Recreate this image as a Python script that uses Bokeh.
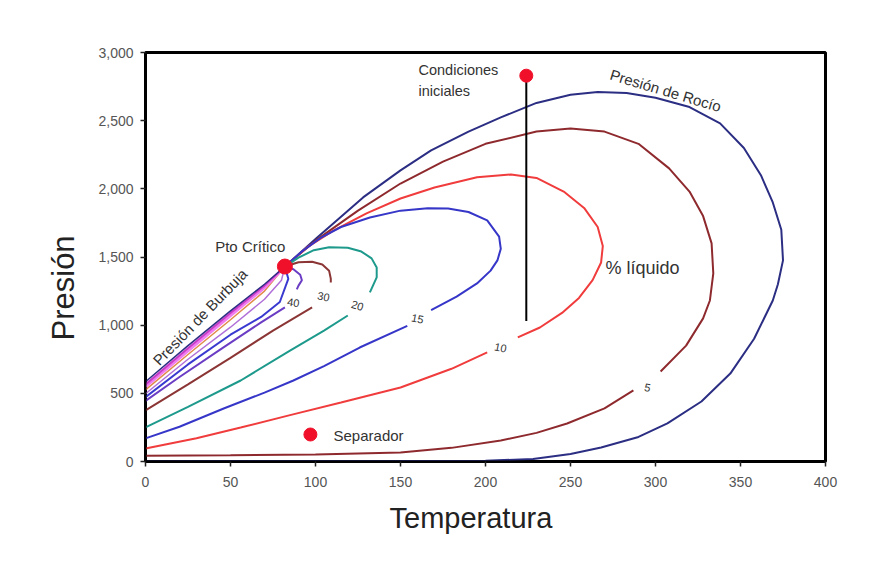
import numpy as np
from bokeh.plotting import figure
from bokeh.models import NumeralTickFormatter, FixedTicker, Range1d, Title
from bokeh.core.properties import value
from bokeh.embed import file_html
from bokeh.resources import INLINE

nan = float("nan")

# ---- tick values ----
x_ticks = [0, 50, 100, 150, 200, 250, 300, 350, 400]
y_ticks = [0, 500, 1000, 1500, 2000, 2500, 3000]

# ---- key points ----
crit_T, crit_P = [82], [1430]
sep_T, sep_P = [97], [198]
init_T, init_P = [224], [2830]
path_T = [224, 224]
path_P = [2830, 1030]

# ---- quality lines (% liquid), temperature / pressure ----
q0_T = [82, 101, 128, 150, 168, 190, 209, 230, 250, 266, 283, 300, 320, 338, 352, 362, 369, 374, 375, 372, 369, 358, 344, 327, 307, 290, 268, 250, 228, 200, 150, 100, 0]
q0_P = [1430, 1643, 1937, 2135, 2282, 2420, 2524, 2630, 2690, 2710, 2703, 2668, 2600, 2480, 2300, 2100, 1900, 1700, 1475, 1300, 1181, 900, 645, 440, 279, 180, 103, 55, 18, 6, 3, 2, 0]

q5_T = [0, 50, 100, 150, 180, 209, 230, 248, 270, 287, nan, 303, 318, 328, 332, 334, 333, 328, 320, 308, 290, 270, 250, 230, 200, 175, 150, 125, 100, 82]
q5_P = [42, 45, 52, 66, 100, 154, 210, 279, 390, 521, nan, 660, 850, 1050, 1181, 1379, 1600, 1800, 1980, 2150, 2330, 2420, 2443, 2420, 2330, 2200, 2039, 1840, 1620, 1430]

q10_T = [0, 30, 56, 85, 115, 150, 180, 201, nan, 219, 232, 245, 255, 263, 268, 269, 266, 258, 246, 230, 215, 195, 170, 150, 130, 110, 95, 82]
q10_P = [95, 170, 249, 340, 433, 543, 680, 800, nan, 910, 983, 1090, 1200, 1330, 1460, 1580, 1720, 1860, 1980, 2080, 2105, 2085, 2010, 1929, 1820, 1690, 1570, 1430]

q15_T = [0, 20, 46, 70, 87, 105, 126, 154, nan, 168, 183, 195, 203, 207, 209, 208, 201, 190, 178, 166, 150, 132, 115, 103, 92, 82]
q15_P = [170, 255, 389, 505, 594, 700, 836, 995, nan, 1110, 1210, 1306, 1400, 1475, 1560, 1650, 1768, 1830, 1856, 1858, 1840, 1790, 1720, 1640, 1540, 1430]

q20_T = [0, 25, 56, 85, 105, 119, nan, 132, 136, 136, 133, 127, 119, 108, 99, 90, 82]
q20_P = [250, 400, 594, 814, 960, 1071, nan, 1240, 1350, 1423, 1490, 1540, 1568, 1572, 1550, 1495, 1430]

q30_T = [0, 25, 50, 75, 98, nan, 109, 109, 108, 104, 98, 90, 82]
q30_P = [375, 565, 760, 960, 1130, nan, 1313, 1340, 1400, 1445, 1465, 1462, 1430]

q40_T = [0, 20, 45, 68, 82, nan, 89, 90, 92, 91, 87, 82]
q40_P = [445, 620, 830, 1020, 1130, nan, 1262, 1290, 1330, 1370, 1410, 1430]

q50_T = [0, 25, 50, 68, 79, 84, 82]
q50_P = [472, 712, 930, 1060, 1170, 1340, 1430]

q60_T = [0, 25, 50, 70, 80, 82]
q60_P = [497, 750, 985, 1190, 1330, 1430]

q70_T = [0, 25, 50, 70, 82]
q70_P = [525, 785, 1040, 1250, 1430]

q80_T = [0, 25, 50, 70, 82]
q80_P = [550, 812, 1070, 1275, 1430]

q90_T = [0, 25, 50, 70, 82]
q90_P = [565, 830, 1090, 1290, 1430]

q100_T = [0, 25, 50, 70, 82]
q100_P = [585, 850, 1105, 1300, 1430]

FONT = "Liberation Sans"

p = figure(width=876, height=568,
           x_range=Range1d(0, 400), y_range=Range1d(0, 3000),
           output_backend="svg", toolbar_location=None,
           min_border_left=145, min_border_right=51,
           min_border_top=52, min_border_bottom=107)
p.background_fill_color = "white"
p.border_fill_color = "white"
p.xgrid.visible = False
p.ygrid.visible = False
p.outline_line_color = "black"
p.outline_line_width = 3
p.outline_line_alpha = 1

p.xaxis.ticker = FixedTicker(ticks=x_ticks)
p.yaxis.ticker = FixedTicker(ticks=y_ticks)
p.yaxis.formatter = NumeralTickFormatter(format="0,0")
for ax in (p.xaxis[0], p.yaxis[0]):
    ax.minor_tick_line_color = None
    ax.major_tick_in = 0
    ax.major_tick_out = 5
    ax.major_tick_line_color = "#222"
    ax.major_tick_line_width = 1.5
    ax.axis_line_color = "black"
    ax.axis_line_width = 2
    ax.major_label_text_font = FONT
    ax.major_label_text_font_size = "14px"
    ax.major_label_text_color = "#555"
p.yaxis.major_label_standoff = 7
p.xaxis.major_label_standoff = 10

# axis titles as side-panel titles so they can be nudged along the axis
p.add_layout(Title(text="Presión", align="left", offset=121, standoff=30,
                   text_font=FONT, text_font_size="31px", text_font_style="normal",
                   text_color="#222"), "left")
p.add_layout(Title(text="Temperatura", align="left", offset=244, standoff=20,
                   text_font=FONT, text_font_size="29px", text_font_style="normal",
                   text_color="#222"), "below")

def arr(a):
    return np.array(a, dtype=float)

curves = [
    (q0_T, q0_P, "#2B2E83", 2),
    (q5_T, q5_P, "#8E2A2E", 2),
    (q10_T, q10_P, "#F03C3C", 2),
    (q15_T, q15_P, "#3636C8", 2),
    (q20_T, q20_P, "#1E9A8C", 2),
    (q30_T, q30_P, "#8B3535", 2),
    (q40_T, q40_P, "#6A3DC4", 2),
    (q50_T, q50_P, "#3A3AD0", 2),
    (q60_T, q60_P, "#B070D8", 1.5),
    (q70_T, q70_P, "#E0894A", 1.5),
    (q80_T, q80_P, "#F07CF0", 3),
    (q90_T, q90_P, "#C83CC8", 2),
    (q100_T, q100_P, "#2B2E83", 1.5),
]
for T, P, c, w in curves:
    p.line(arr(T), arr(P), line_color=c, line_width=w)

p.line(path_T, path_P, line_color="black", line_width=2)

p.scatter(crit_T, crit_P, size=15, color="#F0102A")
p.scatter(sep_T, sep_P, size=13, color="#F0102A")
p.scatter(init_T, init_P, size=13, color="#F0102A")

def txt(x, y, s, size="12px", angle=0.0, align="left", color="#333"):
    p.text(x=[x], y=[y], text=[s], text_font=value(FONT), text_font_size=size,
           text_color=color, angle=angle, text_align=align, text_baseline="middle")

txt(160.6, 2868, "Condiciones", size="14.5px")
txt(160.6, 2721, "iniciales", size="14.5px")
txt(41, 1577, "Pto Crítico", size="15px")
txt(110.6, 191, "Separador", size="15px")
txt(270.6, 1416, "% líquido", size="18px")
txt(306, 2721, "Presión de Rocío", size="15px", angle=-0.29, align="center")
txt(32, 1060, "Presión de Burbuja", size="15px", angle=0.8, align="center")

txt(87, 1166, "40", size="11px", angle=-0.15, align="center")
txt(104.7, 1210, "30", size="11px", angle=-0.2, align="center")
txt(124.7, 1144, "20", size="11px", angle=-0.3, align="center")
txt(160, 1049, "15", size="11px", angle=-0.2, align="center")
txt(208.8, 836, "10", size="11px", angle=-0.2, align="center")
txt(295.3, 543, "5", size="11px", angle=-0.2, align="center")

open("out.html", "w").write(file_html(p, INLINE))
